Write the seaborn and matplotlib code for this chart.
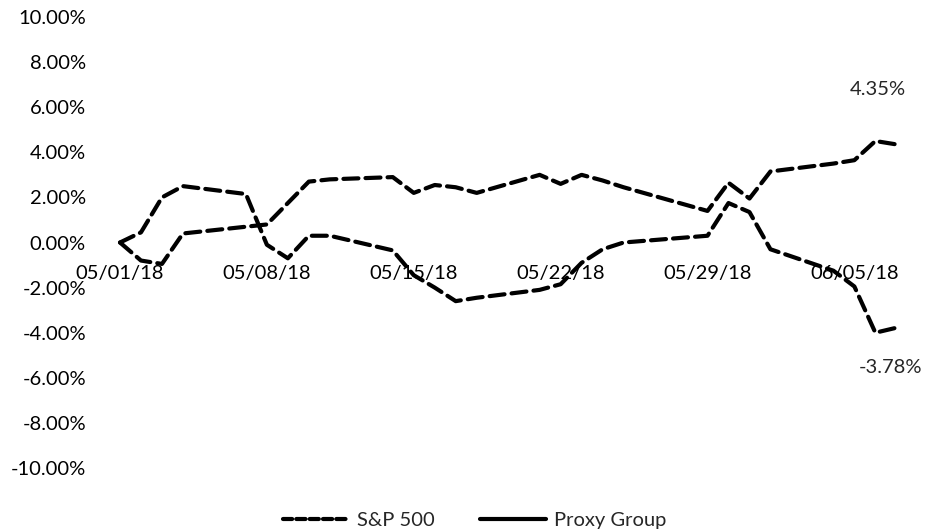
import matplotlib
matplotlib.use('Agg')
import matplotlib.pyplot as plt
import matplotlib.dates as mdates
import seaborn as sns
import pandas as pd

# trading days shown on the chart
dates = ['2018-05-01', '2018-05-02', '2018-05-03', '2018-05-04', '2018-05-07',
         '2018-05-08', '2018-05-09', '2018-05-10', '2018-05-11', '2018-05-14',
         '2018-05-15', '2018-05-16', '2018-05-17', '2018-05-18', '2018-05-21',
         '2018-05-22', '2018-05-23', '2018-05-24', '2018-05-25', '2018-05-29',
         '2018-05-30', '2018-05-31', '2018-06-01', '2018-06-04', '2018-06-05',
         '2018-06-06', '2018-06-07']

# cumulative change, percent
sp500 = [0.0, -0.8, -0.95, 0.4, 0.7, 0.8, 1.75, 2.7, 2.8, 2.9,
         2.2, 2.55, 2.45, 2.2, 3.0, 2.6, 3.0, 2.75, 2.45, 1.4,
         2.65, 1.95, 3.15, 3.5, 3.65, 4.5, 4.35]
proxy = [0.0, 0.45, 2.0, 2.5, 2.15, -0.1, -0.7, 0.3, 0.3, -0.35,
         -1.45, -2.0, -2.6, -2.45, -2.1, -1.85, -0.9, -0.3, 0.0, 0.3,
         1.75, 1.35, -0.3, -1.25, -1.95, -4.0, -3.78]

tick_dates = ['2018-05-01', '2018-05-08', '2018-05-15', '2018-05-22', '2018-05-29', '2018-06-05']
y_ticks = [10, 8, 6, 4, 2, 0, -2, -4, -6, -8, -10]

df = pd.DataFrame({'date': pd.to_datetime(dates), 'S&P 500': sp500, 'Proxy Group': proxy})

sns.set_style('white')
plt.rcParams['font.family'] = ['Lato', 'DejaVu Sans']

fig = plt.figure(figsize=(9.32, 5.31), dpi=100)
ax = fig.add_axes([0.1175, 0.1186, 0.8555, 0.8494])

dash = (3.6, 1.7)
for col in ['S&P 500', 'Proxy Group']:
    sns.lineplot(data=df, x='date', y=col, ax=ax, color='black', linewidth=3,
                 label=col, dashes=False)
    ax.lines[-1].set_dashes(dash)
    ax.lines[-1].set_dash_capstyle('round')

ax.set_ylim(-10, 10)
ax.set_yticks(y_ticks)
ax.set_yticklabels([f'{v:.2f}%' for v in y_ticks])
ax.set_xlim(pd.Timestamp('2018-05-01') - pd.Timedelta(hours=12),
            pd.Timestamp('2018-06-07') + pd.Timedelta(hours=12))
ax.set_xticks(pd.to_datetime(tick_dates))
ax.xaxis.set_major_formatter(mdates.DateFormatter('%m/%d/%y'))
ax.set_xlabel('')
ax.set_ylabel('')

for s in ['top', 'right', 'left']:
    ax.spines[s].set_visible(False)
ax.spines['bottom'].set_position(('data', 0))
ax.spines['bottom'].set_visible(False)
ax.tick_params(axis='x', length=0, pad=16, labelsize=14.5, colors='black')
ax.tick_params(axis='y', length=0, pad=17, labelsize=14.5, colors='black')

last = pd.Timestamp(dates[-1])
ax.annotate(f'{sp500[-1]:.2f}%', xy=(last, sp500[-1]), xytext=(-19, 55),
            textcoords='offset pixels', ha='center', va='center', fontsize=14.5)
ax.annotate(f'{proxy[-1]:.2f}%', xy=(last, proxy[-1]), xytext=(-6, -40),
            textcoords='offset pixels', ha='center', va='center', fontsize=14.5)

leg = ax.legend(loc='lower center', bbox_to_anchor=(0.458, -0.175), ncol=2, frameon=False,
                fontsize=14.5, handlelength=3.3, columnspacing=2.2, handletextpad=0.4)
leg.get_lines()[0].set_dashes((2.2, 1.0))
leg.get_lines()[1].set_linestyle('-')

fig.savefig('out.png', dpi=100)
